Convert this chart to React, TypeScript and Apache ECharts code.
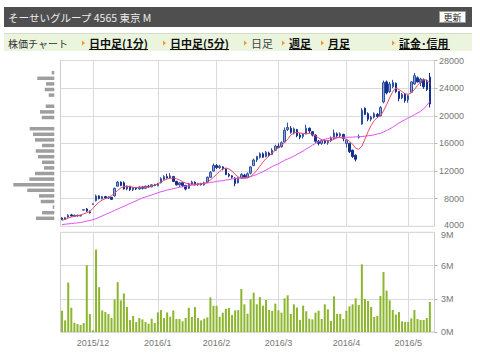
import React, { useEffect, useRef } from 'react';
import * as echarts from 'echarts';

// trading days per month
const nov15 = [16, 17, 18, 19, 20, 24, 25, 26, 27, 30];
const dec15 = [1, 2, 3, 4, 7, 8, 9, 10, 11, 14, 15, 16, 17, 18, 21, 22, 24, 25, 28, 29, 30];
const jan16 = [4, 5, 6, 7, 8, 12, 13, 14, 15, 18, 19, 20, 21, 22, 25, 26, 27, 28, 29];
const feb16 = [1, 2, 3, 4, 5, 8, 9, 10, 12, 15, 16, 17, 18, 19, 22, 23, 24, 25, 26, 29];
const mar16 = [1, 2, 3, 4, 7, 8, 9, 10, 11, 14, 15, 16, 17, 18, 22, 23, 24, 25, 28, 29, 30, 31];
const apr16 = [1, 4, 5, 6, 7, 8, 11, 12, 13, 14, 15, 18, 19, 20, 21, 22, 25, 26, 27, 28];
const may16 = [2, 6, 9, 10, 11, 12, 13, 16, 17];

const dates: string[] = [
  ...nov15.map((d) => `2015/11/${d}`),
  ...dec15.map((d) => `2015/12/${d}`),
  ...jan16.map((d) => `2016/1/${d}`),
  ...feb16.map((d) => `2016/2/${d}`),
  ...mar16.map((d) => `2016/3/${d}`),
  ...apr16.map((d) => `2016/4/${d}`),
  ...may16.map((d) => `2016/5/${d}`),
];

const openP = [
  5200, 5000, 5300, 5650, 5450, 5600, 5500, 6350, 6500, 6100,
  7200, 7700, 8400, 8000, 8300, 8100, 8200, 8400, 9800, 10400,
  10300, 9400, 9800, 9300, 9600, 9400, 9700, 9500, 9800, 9700,
  10000, 9900, 10300, 10800, 11200, 11000, 11200, 10500, 10000, 10300,
  9900, 9500, 10100, 10400, 10000, 10200, 10000, 10400, 11100, 12000,
  12800, 12500, 12600, 12300, 11500, 11300, 11000, 10300, 11000, 11400,
  11100, 11700, 12800, 13600, 14000, 14500, 14100, 14600, 14400, 15000,
  15600, 15500, 16200, 18000, 18200, 17500, 18000, 17200, 17000, 17400,
  18200, 17700, 17200, 16300, 16000, 16400, 16100, 16400, 16700, 17400,
  17100, 17300, 16000, 16000, 15000, 14300, 16900, 18800, 21100, 20300,
  19500, 19800, 20200, 20000, 22000, 24900, 23500, 24200, 24700, 23500,
  22600, 23100, 22300, 23400, 24600, 25500, 24800, 25200, 24900, 25600,
];
const closeP = [
  5000, 5250, 5600, 5500, 5600, 5500, 5550, 6400, 6200, 5950,
  7250, 8400, 8000, 8300, 8100, 8200, 7900, 9500, 10400, 9900,
  9400, 9800, 9300, 9600, 9400, 9700, 9500, 9800, 9700, 10000,
  9900, 10200, 10900, 11200, 11000, 11300, 10500, 10000, 10300, 9900,
  9400, 10100, 10400, 10000, 10200, 10000, 10300, 11100, 11800, 12800,
  12500, 12700, 12300, 11500, 11300, 11100, 10200, 11000, 11500, 11100,
  11600, 12600, 13600, 14100, 14500, 14000, 14700, 14300, 15000, 15600,
  15400, 16100, 17900, 18300, 17600, 18100, 17100, 16900, 17300, 18200,
  17800, 17200, 16300, 16000, 16400, 16100, 16300, 16800, 17500, 17100,
  17400, 16700, 16500, 14800, 14100, 13700, 16950, 20800, 20200, 19500,
  19800, 20300, 19900, 21200, 24800, 23300, 24600, 24800, 23500, 22500,
  23100, 22200, 22900, 24900, 25800, 24900, 25300, 24200, 23800, 21700,
];
const lowP = [
  4900, 4950, 5250, 5400, 5400, 5450, 5450, 6300, 6100, 5850,
  7150, 7600, 7900, 7900, 8000, 8000, 7850, 8300, 9750, 9800,
  9300, 9200, 9100, 9100, 9250, 9300, 9350, 9450, 9600, 9650,
  9800, 9800, 10200, 10700, 10900, 10900, 10400, 9900, 9700, 9700,
  9200, 9400, 10000, 9900, 9850, 9900, 9900, 10300, 11000, 11900,
  12300, 12300, 12100, 11400, 11100, 10900, 9800, 10200, 10900, 11000,
  11000, 11500, 12700, 13300, 13800, 13900, 14000, 14100, 14300, 14900,
  15300, 15400, 16100, 17800, 17400, 17300, 16900, 16600, 16700, 17300,
  17500, 17000, 16100, 15700, 15800, 15900, 15800, 16200, 16600, 16800,
  16900, 16300, 15400, 14600, 13900, 13400, 16700, 18700, 20100, 19200,
  19200, 19600, 19700, 19900, 21800, 23100, 23300, 24000, 23300, 22100,
  22400, 21900, 21900, 23300, 24500, 24800, 24300, 23900, 23600, 21200,
];
const highP = [
  5300, 5350, 5750, 5800, 5700, 5650, 5650, 6450, 6650, 6300,
  7300, 8600, 8500, 8400, 8400, 8350, 8250, 9600, 10550, 10500,
  10500, 9900, 9850, 9700, 9700, 9800, 9800, 9900, 10000, 10100,
  10150, 10300, 11100, 11400, 11600, 11700, 11300, 10600, 10400, 10400,
  10000, 10300, 10600, 10500, 10300, 10300, 10450, 11200, 12000, 13100,
  13000, 12900, 12700, 12400, 11700, 11400, 11100, 11100, 11700, 11600,
  11800, 12700, 13800, 14200, 14700, 14700, 14900, 14800, 15300, 15800,
  16000, 16300, 18300, 19000, 18500, 18300, 18100, 17500, 17500, 18700,
  18300, 17800, 17300, 16500, 16600, 16600, 16500, 17000, 18000, 17600,
  17600, 17400, 16600, 16100, 15100, 14400, 17300, 21100, 21200, 20500,
  20000, 20500, 20400, 21400, 25100, 25100, 24900, 25200, 24800, 23600,
  23300, 23300, 23000, 25000, 26200, 25700, 25500, 25400, 25200, 26200,
];

// short moving average (red) and long moving average (magenta)
const maShort = [
  4850, 5000, 5200, 5350, 5450, 5550, 5650, 5800, 5950, 6150,
  6600, 7100, 7500, 7800, 8000, 8150, 8450, 8800, 9200, 9550,
  9750, 9800, 9750, 9650, 9600, 9600, 9650, 9700, 9700, 9800,
  9950, 10150, 10400, 10650, 10850, 10950, 11000, 10900, 10700, 10450,
  10250, 10150, 10100, 10100, 10100, 10150, 10200, 10400, 10700, 11100,
  11500, 11950, 12300, 12450, 12300, 12000, 11500, 11150, 11000, 10950,
  11000, 11200, 11600, 12100, 12700, 13300, 13800, 14200, 14600, 15000,
  15400, 15700, 16100, 16600, 17200, 17500, 17600, 17500, 17450, 17400,
  17450, 17350, 17100, 16800, 16500, 16400, 16400, 16450, 16600, 16800,
  16850, 16750, 16600, 16300, 15900, 15300, 15150, 15600, 16600, 17700,
  18600, 19300, 19750, 20000, 20700, 21600, 22600, 23500, 24000, 23800,
  23500, 23200, 23100, 23300, 23800, 24400, 24900, 25200, 25200, 24700,
];
const maLong = [
  4250, 4300, 4350, 4400, 4450, 4500, 4550, 4650, 4750, 4850,
  4950, 5100, 5300, 5500, 5700, 5900, 6100, 6300, 6500, 6700,
  6900, 7100, 7300, 7500, 7700, 7900, 8100, 8250, 8400, 8550,
  8700, 8850, 9000, 9100, 9250, 9350, 9450, 9550, 9650, 9700,
  9800, 9850, 9950, 10000, 10100, 10150, 10200, 10250, 10350, 10400,
  10500, 10550, 10600, 10700, 10750, 10850, 10900, 10950, 11000, 11000,
  11050, 11200, 11350, 11500, 11700, 11900, 12150, 12400, 12650, 12850,
  13050, 13300, 13550, 13750, 13950, 14150, 14400, 14650, 14900, 15200,
  15450, 15750, 16000, 16250, 16450, 16600, 16700, 16800, 16850, 16900,
  16900, 16900, 16900, 16900, 16900, 16950, 16950, 17000, 17050, 17100,
  17150, 17250, 17350, 17450, 17650, 17850, 18100, 18350, 18650, 18950,
  19200, 19450, 19700, 19900, 20150, 20400, 20650, 21000, 21500, 22100,
];

// daily volume in millions of shares
const volumeM = [
  1.92, 1.05, 4.47, 2.19, 0.84, 0.72, 0.63, 0.81, 6.03, 1.62,
  0.15, 7.44, 4.05, 1.95, 1.8, 1.62, 1.26, 2.94, 4.5, 2.85,
  3.48, 2.25, 1.08, 1.44, 0.9, 1.26, 1.14, 0.9, 0.75, 1.2,
  0.81, 1.77, 1.98, 1.26, 1.77, 1.38, 1.95, 1.17, 1.17, 0.96,
  1.26, 2.19, 1.35, 2.25, 1.26, 1.05, 1.2, 1.32, 3.12, 2.37,
  2.37, 1.38, 1.74, 2.1, 2.16, 1.53, 1.95, 1.98, 3.88, 2.5,
  1.65, 2.95, 3.55, 2.5, 3.16, 2.38, 2.89, 1.99, 1.9, 2.56,
  1.96, 1.75, 3.04, 3.31, 1.63, 2.5, 2.2, 1.08, 2.38, 1.87,
  1.2, 1.14, 1.75, 1.93, 1.17, 2.5, 2.05, 1.0, 3.22, 1.63,
  1.63, 1.17, 1.93, 2.32, 2.5, 3.04, 2.44, 6.11, 2.98, 2.8,
  2.26, 1.36, 1.45, 3.25, 5.42, 3.73, 2.86, 1.99, 1.57, 1.8,
  0.96, 0.9, 0.9, 1.23, 1.99, 1.17, 1.08, 1.08, 1.26, 2.71,
];

// price-by-volume profile (bottom to top)
const profileLevels = [
  '5200', '6000', '6800', '7600', '8400', '9200', '10000', '10800', '11600',
  '12500', '13300', '14100', '14900', '15700', '16500', '17300', '18100', '18900',
  '19800', '20600', '21400', '22200', '23000', '23800', '24600', '25400', '26200',
];
const profileVolume = [
  18.3, 12.3, 1.6, 13.6, 15.3, 27, 41, 25, 19.3,
  10.3, 12.3, 16.3, 18.6, 12.3, 19.3, 21.3, 24.6, 0,
  12.6, 14.3, 8.6, 0, 5.6, 9.6, 8.3, 17, 2.6,
];

const priceTicks = { min: 4000, max: 28000, step: 4000 };
const volumeTicks = { min: 0, max: 9, step: 3 };

const navItems = [
  { label: '日中足(1分)', x: 89, link: true },
  { label: '日中足(5分)', x: 170, link: true },
  { label: '日足', x: 251, link: false },
  { label: '週足', x: 289, link: true },
  { label: '月足', x: 328, link: true },
  { label: '証金･信用', x: 399, link: true },
];

const monthOf = (s: string) => s.split('/').slice(0, 2).join('/');
const isMonthStart = (i: number) => i > 0 && monthOf(dates[i]) !== monthOf(dates[i - 1]);

const JP = '"Noto Sans CJK JP", "Noto Sans", sans-serif';
const LAT = '"Liberation Sans", Arial, sans-serif';

function buildOption() {
  const ohlc = dates.map((_, i) =>
    i < closeP.length ? [openP[i], closeP[i], lowP[i], highP[i]] : ['-', '-', '-', '-']
  );
  const pad = (arr: number[]) => dates.map((_, i) => (i < arr.length ? arr[i] : null));

  const graphic: any[] = [
    { type: 'rect', shape: { x: 4, y: 7, width: 468, height: 20 }, style: { fill: '#4f4f4f' } },
    {
      type: 'text', x: 8, y: 17,
      style: { text: 'そーせいグループ 4565 東京 M', fill: '#ececec', font: `10.5px ${JP}`, verticalAlign: 'middle' },
    },
    { type: 'rect', shape: { x: 439.5, y: 11.5, width: 26, height: 11 }, style: { fill: '#ffffff', stroke: '#9a9a9a', lineWidth: 1 } },
    {
      type: 'text', x: 452.5, y: 17.5,
      style: { text: '更新', fill: '#222', font: `9px ${JP}`, align: 'center', verticalAlign: 'middle' },
    },
    { type: 'rect', shape: { x: 4, y: 33, width: 468, height: 18 }, style: { fill: '#ebf5de' } },
    { type: 'line', shape: { x1: 4, y1: 33.5, x2: 472, y2: 33.5 }, style: { stroke: '#d3dcc8', lineWidth: 1 } },
    {
      type: 'text', x: 8, y: 43,
      style: { text: '株価チャート', fill: '#333', font: `10px ${JP}`, verticalAlign: 'middle' },
    },
    // bottom price label and top volume label, nudged apart as in the reference
    {
      type: 'text', x: 464, y: 224.5,
      style: { text: String(priceTicks.min), fill: '#777', font: `9px ${LAT}`, align: 'right', verticalAlign: 'middle' },
    },
    {
      type: 'text', x: 441, y: 234.5,
      style: { text: `${volumeTicks.max}M`, fill: '#777', font: `9px ${LAT}`, align: 'left', verticalAlign: 'middle' },
    },
  ];
  navItems.forEach((it) => {
    graphic.push({
      type: 'polygon',
      shape: { points: [[it.x - 7, 40.5], [it.x - 4, 43], [it.x - 7, 45.5]] },
      style: { fill: '#f39a1e' },
    });
    graphic.push({
      type: 'text', x: it.x, y: 43,
      style: {
        text: it.label,
        fill: it.link ? '#111' : '#444',
        font: `${it.link ? 'bold ' : ''}11px ${JP}`,
        verticalAlign: 'middle',
      },
    });
  });
  const underlines = [
    [89, 148], [170, 229], [289, 312], [328, 350], [399, 450],
  ];
  underlines.forEach(([a, b]) => {
    graphic.push({ type: 'line', shape: { x1: a, y1: 49.5, x2: b, y2: 49.5 }, style: { stroke: '#111', lineWidth: 1 } });
  });

  const monthSplit = {
    show: true,
    interval: (i: number) => isMonthStart(i),
    alignWithLabel: true,
    lineStyle: { color: '#dadada', width: 1 },
  };

  return {
    animation: false,
    backgroundColor: '#ffffff',
    graphic,
    grid: [
      { left: 60.5, right: 45.5, top: 60.5, height: 165.8, show: true, borderColor: '#cfcfcf', borderWidth: 1, backgroundColor: 'transparent' },
      { left: 60.5, right: 45.5, top: 232.3, height: 99.7, show: true, borderColor: '#cfcfcf', borderWidth: 1, backgroundColor: 'transparent' },
      { left: 4, width: 50.3, top: 69.9, height: 151.2, show: false },
    ],
    xAxis: [
      {
        gridIndex: 0, type: 'category', data: dates, boundaryGap: true,
        axisLine: { show: false }, axisTick: { show: false }, axisLabel: { show: false },
        splitLine: monthSplit,
      },
      {
        gridIndex: 1, type: 'category', data: dates, boundaryGap: true,
        axisLine: { show: false },
        axisTick: { show: false },
        axisLabel: {
          show: true, interval: (i: number) => isMonthStart(i),
          formatter: (v: string) => monthOf(v),
          color: '#777', fontSize: 9, fontFamily: LAT, margin: 6,
        },
        splitLine: monthSplit,
      },
      { gridIndex: 2, type: 'value', min: 0, max: 50.3, inverse: true, show: false },
    ],
    yAxis: [
      {
        gridIndex: 0, type: 'value', position: 'right',
        min: priceTicks.min, max: priceTicks.max, interval: priceTicks.step,
        axisLine: { show: false },
        axisTick: { show: true, length: 3, lineStyle: { color: '#b5b5b5' } },
        axisLabel: {
          color: '#777', fontSize: 9, fontFamily: LAT, margin: 29.5, align: 'right',
          showMinLabel: false, formatter: (v: number) => String(v),
        },
        splitLine: { show: true, lineStyle: { color: '#dadada' } },
      },
      {
        gridIndex: 1, type: 'value', position: 'right',
        min: volumeTicks.min, max: volumeTicks.max, interval: volumeTicks.step,
        axisLine: { show: false },
        axisTick: { show: true, length: 3, lineStyle: { color: '#b5b5b5' } },
        axisLabel: {
          color: '#777', fontSize: 9, fontFamily: LAT, margin: 6.5,
          showMaxLabel: false, formatter: (v: number) => `${v}M`,
        },
        splitLine: { show: true, lineStyle: { color: '#dadada' } },
      },
      { gridIndex: 2, type: 'category', data: profileLevels, show: false },
    ],
    series: [
      {
        type: 'candlestick', xAxisIndex: 0, yAxisIndex: 0, data: ohlc, barWidth: 2,
        itemStyle: {
          color: '#8aa5d6', color0: '#13308c',
          borderColor: '#3050a2', borderColor0: '#13308c', borderWidth: 1,
        },
      },
      {
        type: 'line', xAxisIndex: 0, yAxisIndex: 0, data: pad(maLong), symbol: 'none',
        lineStyle: { color: '#e04ff5', width: 1 },
      },
      {
        type: 'line', xAxisIndex: 0, yAxisIndex: 0, data: pad(maShort), symbol: 'none',
        lineStyle: { color: '#ea4a6b', width: 1 },
      },
      {
        type: 'bar', xAxisIndex: 1, yAxisIndex: 1, data: pad(volumeM), barWidth: 2,
        itemStyle: { color: '#8cb62e' },
      },
      {
        type: 'bar', xAxisIndex: 2, yAxisIndex: 2, data: profileVolume, barWidth: 3.5,
        itemStyle: { color: '#9e9e9e' },
      },
    ],
  };
}

export default function App() {
  const ref = useRef<HTMLDivElement>(null);
  useEffect(() => {
    if (!ref.current) return;
    const chart = echarts.init(ref.current, null, { renderer: 'svg', width: 480, height: 364 });
    chart.setOption(buildOption() as any);
    return () => chart.dispose();
  }, []);
  return (
    <div
      ref={ref}
      style={{ position: 'absolute', left: 0, top: 0, width: 480, height: 364, background: '#fff' }}
    />
  );
}
